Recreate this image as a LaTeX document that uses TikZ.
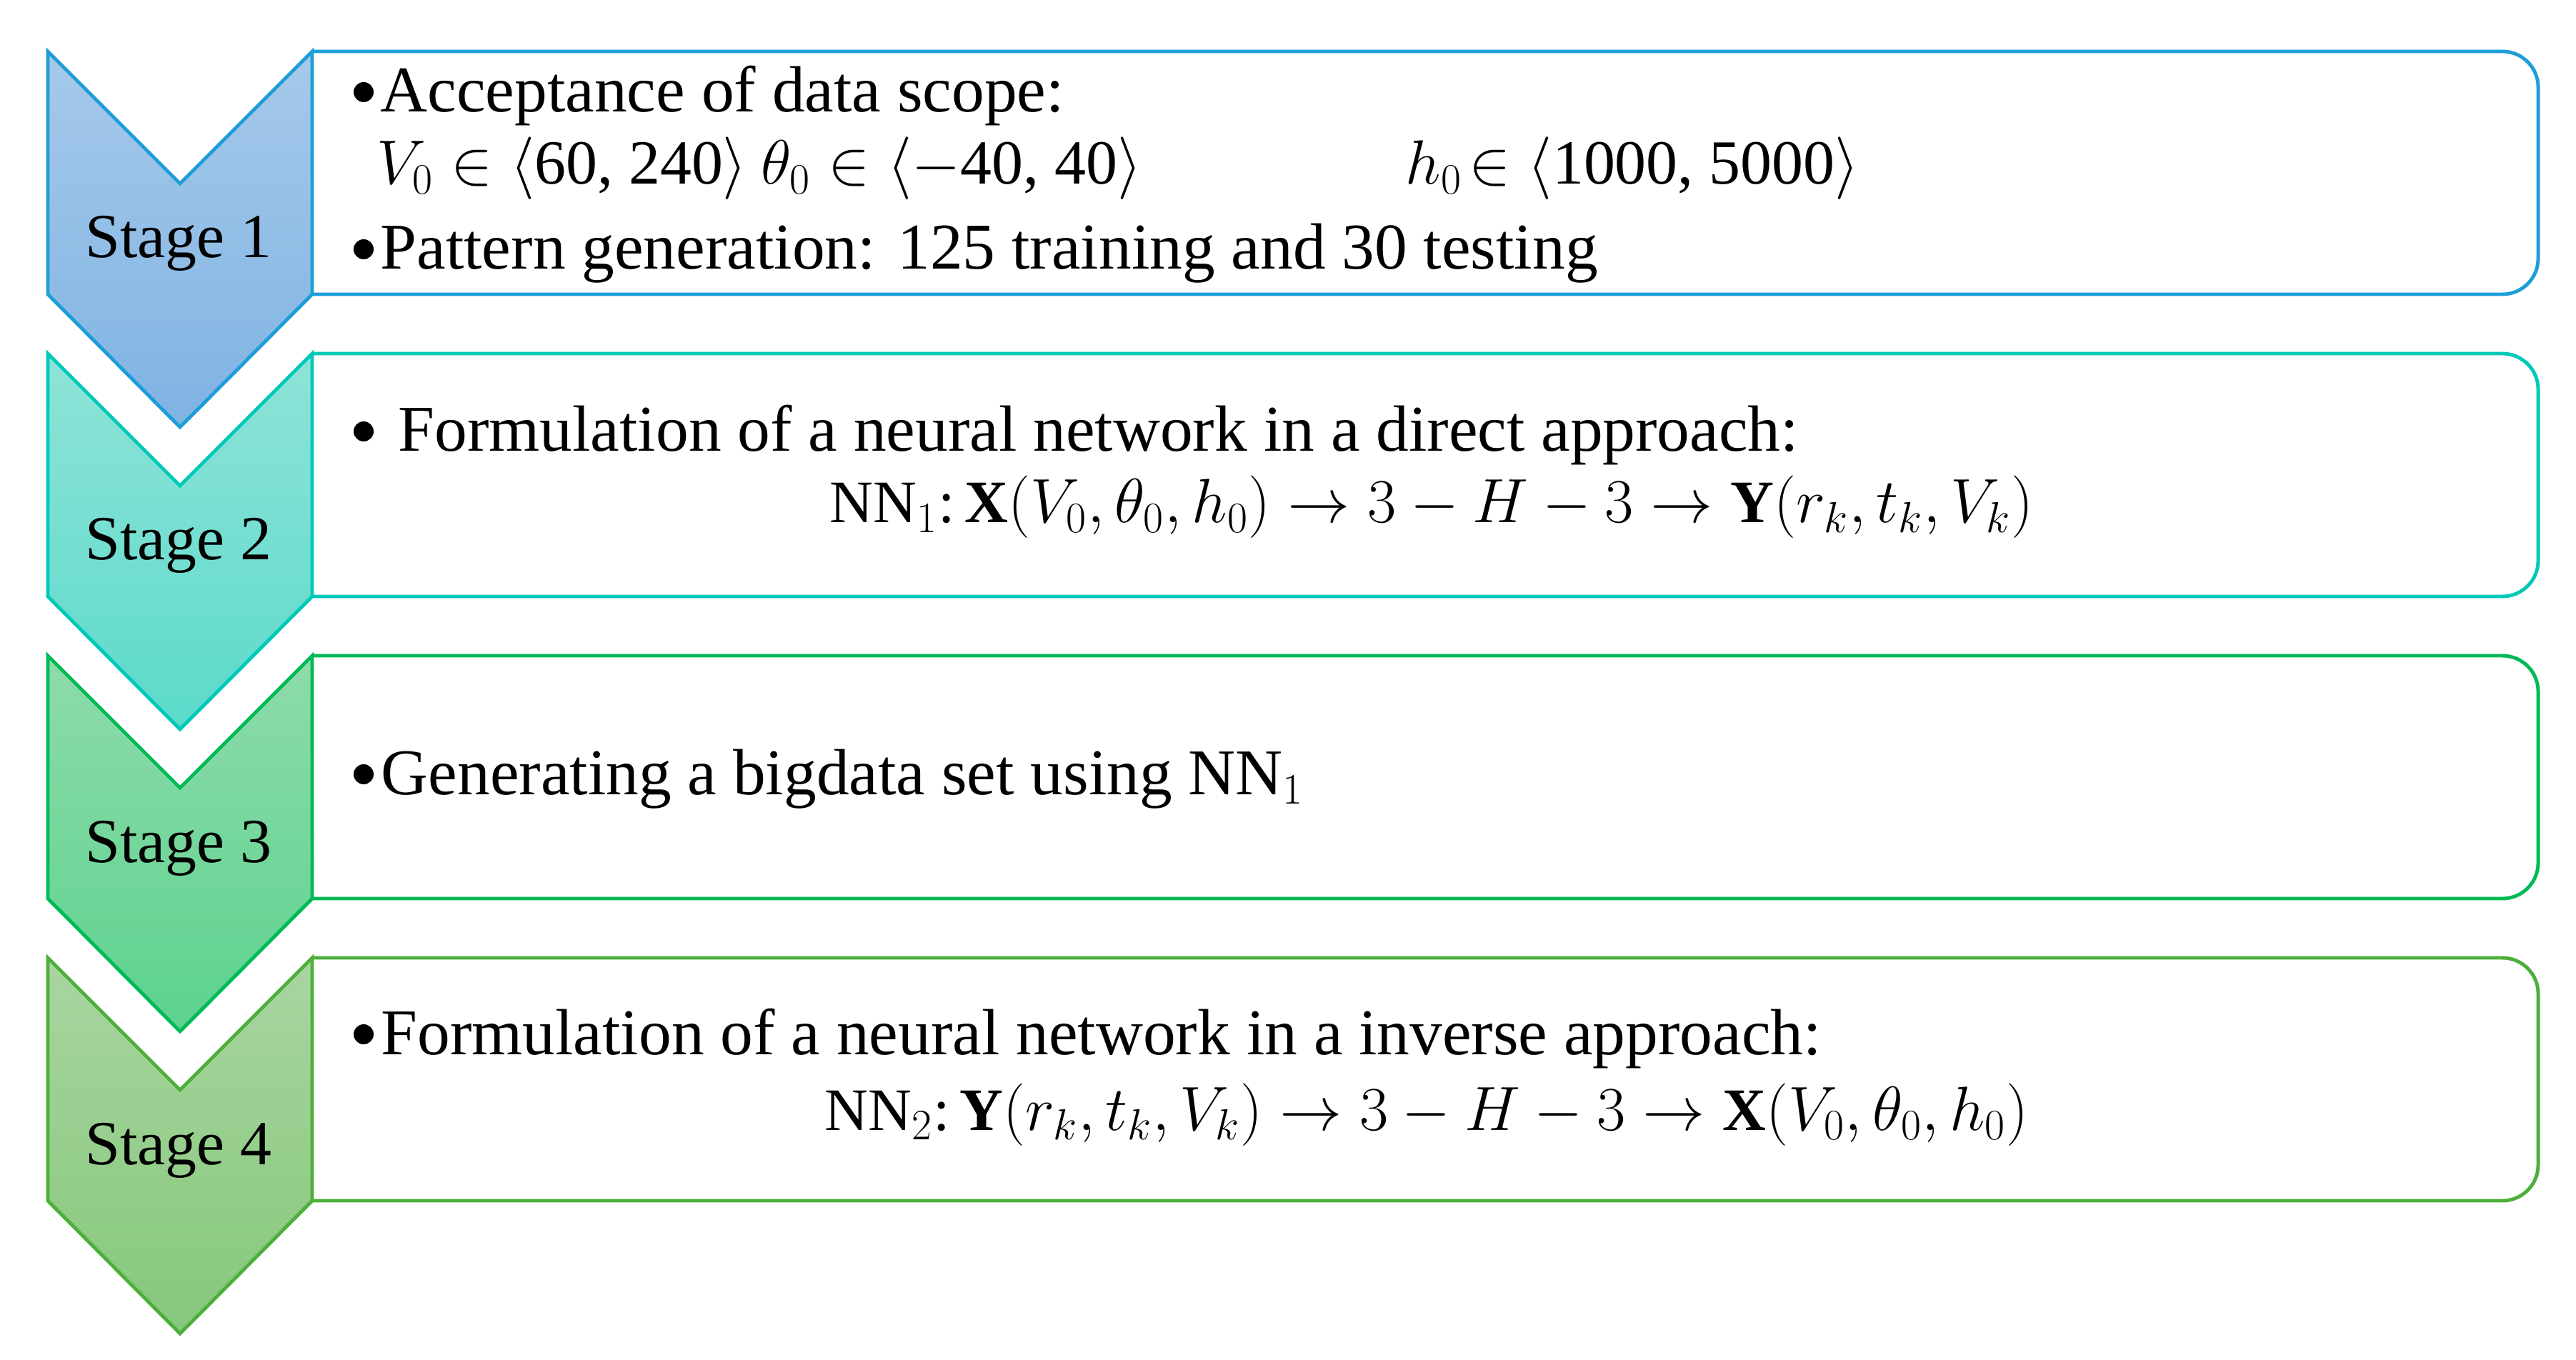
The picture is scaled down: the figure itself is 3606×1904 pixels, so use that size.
\documentclass[tikz,border=0pt]{standalone}
\usepackage{fontspec}
\setmainfont{Liberation Serif}
\usepackage{amsmath}
\definecolor{sAline}{HTML}{1E9ED9}
\definecolor{sAtop}{HTML}{A6C9EA}
\definecolor{sAbot}{HTML}{7FB3E3}
\definecolor{sBline}{HTML}{00C9B9}
\definecolor{sBtop}{HTML}{8FE3D7}
\definecolor{sBbot}{HTML}{5BDACB}
\definecolor{sCline}{HTML}{00BA55}
\definecolor{sCtop}{HTML}{8EDBAA}
\definecolor{sCbot}{HTML}{5CD28E}
\definecolor{sDline}{HTML}{4CAF3A}
\definecolor{sDtop}{HTML}{A9D5A0}
\definecolor{sDbot}{HTML}{85C87B}
\tikzset{
  txt/.style={inner sep=0pt, anchor=base west, font=\fontsize{26}{31}\selectfont},
  mth/.style={inner sep=0pt, anchor=base west, font=\fontsize{25}{30}\selectfont},
  eqn/.style={inner sep=0pt, anchor=base, font=\fontsize{24}{29}\selectfont},
  lbl/.style={inner sep=0pt, anchor=base, font=\fontsize{25}{30}\selectfont},
  boxline/.style={line width=1.4pt, rounded corners=0.5cm},
  chev/.style={line width=1.4pt, line join=miter},
  bul/.style={fill=black}
}
\begin{document}
\begin{tikzpicture}[x=0.01cm,y=-0.01cm]
\useasboundingbox (0,0) rectangle (3606,1904);
% Stage 1
\draw[boxline, draw=sAline] (437,72) -- (3553,72) -- (3553,412) -- (437,412);
\draw[chev, draw=sAline, top color=sAtop, bottom color=sAbot]
  (67,72) -- (252,257) -- (437,72) -- (437,412) -- (252,598) -- (67,412) -- cycle;
\node[lbl] (st1) at (250,361) {Stage 1};
\fill[bul] (509,129) circle (0.14cm);
\node[txt] (a1) at (532,157) {Acceptance of data scope:};
\node[mth] (a2) at (527,258) {$V_0 \in \langle$60, 240$\rangle$};
\node[mth] (a3) at (1065,258) {$\theta_0 \in \langle$$-$40, 40$\rangle$};
\node[mth] (a4) at (1967,258) {$h_0\!\in \langle$1000, 5000$\rangle$};
\fill[bul] (509,349) circle (0.14cm);
\node[txt] (a5) at (532,377) {Pattern generation: 125 training and 30 testing};
% Stage 2
\draw[boxline, draw=sBline] (437,495) -- (3553,495) -- (3553,835) -- (437,835);
\draw[chev, draw=sBline, top color=sBtop, bottom color=sBbot]
  (67,495) -- (252,680) -- (437,495) -- (437,835) -- (252,1021) -- (67,835) -- cycle;
\node[lbl] (st2) at (250,784) {Stage 2};
\fill[bul] (509,604) circle (0.14cm);
\node[txt] (b1) at (557,632) {Formulation of a neural network in a direct approach:};
\node[eqn] (b2) at (2004,732) {NN$_1$:\,$\mathbf{X}(V_0,\theta_0,h_0)\rightarrow 3-H-3\rightarrow\mathbf{Y}(r_k,t_k,V_k)$};
% Stage 3
\draw[boxline, draw=sCline] (437,918) -- (3553,918) -- (3553,1258) -- (437,1258);
\draw[chev, draw=sCline, top color=sCtop, bottom color=sCbot]
  (67,918) -- (252,1103) -- (437,918) -- (437,1258) -- (252,1444) -- (67,1258) -- cycle;
\node[lbl] (st3) at (250,1207) {Stage 3};
\fill[bul] (509,1084) circle (0.14cm);
\node[txt] (c1) at (533,1112) {Generating a bigdata set using NN$_1$};
% Stage 4
\draw[boxline, draw=sDline] (437,1341) -- (3553,1341) -- (3553,1681) -- (437,1681);
\draw[chev, draw=sDline, top color=sDtop, bottom color=sDbot]
  (67,1341) -- (252,1526) -- (437,1341) -- (437,1681) -- (252,1867) -- (67,1681) -- cycle;
\node[lbl] (st4) at (250,1630) {Stage 4};
\fill[bul] (509,1448) circle (0.14cm);
\node[txt] (d1) at (533,1476) {Formulation of a neural network in a inverse approach:};
\node[eqn] (d2) at (1997,1582) {NN$_2$:\,$\mathbf{Y}(r_k,t_k,V_k)\rightarrow 3-H-3\rightarrow\mathbf{X}(V_0,\theta_0,h_0)$};
\end{tikzpicture}
\end{document}
